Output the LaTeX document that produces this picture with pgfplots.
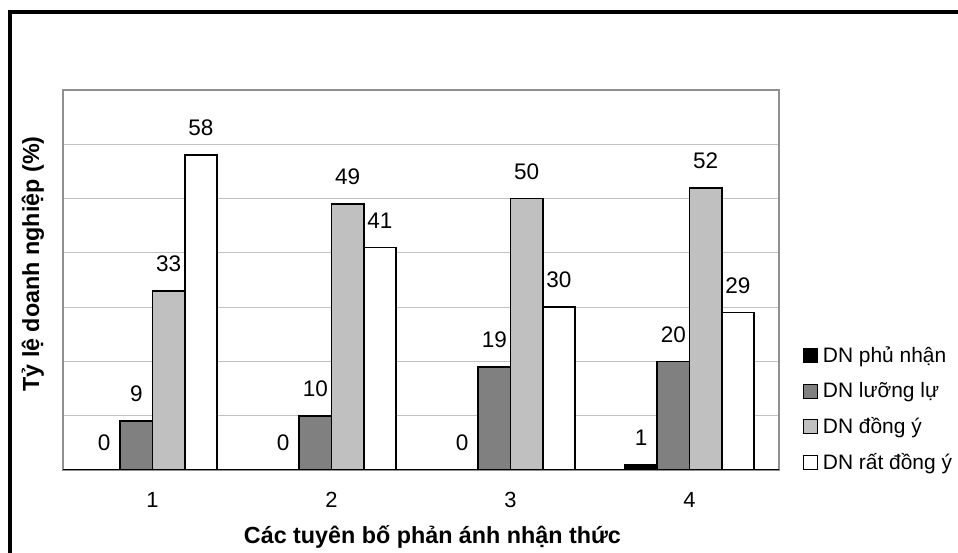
\documentclass[border=0pt]{standalone}
\usepackage{fontspec}
\setmainfont{Liberation Sans}
\usepackage{pgfplots}
\pgfplotsset{compat=1.18}
\definecolor{dg}{HTML}{808080}
\definecolor{lg}{HTML}{C0C0C0}
\definecolor{gridc}{HTML}{C0C0C0}
\definecolor{axc}{HTML}{909090}
\begin{document}
\begin{tikzpicture}
\useasboundingbox (0,0) rectangle (479bp,276.5bp);
\draw[line width=2bp] (5bp,-20bp) -- (5bp,270.5bp) -- (500bp,270.5bp);
\begin{axis}[
  at={(31.5bp,41.5bp)}, anchor=south west,
  width=358bp, height=190bp, scale only axis,
  /pgf/number format/assume math mode=true,
  ybar=0pt, bar width=0.18,
  xmin=0.5, xmax=4.5, ymin=0, ymax=70,
  xtick={1,2,3,4},
  minor xtick={0.5,1.5,2.5,3.5,4.5},
  xtick pos=left,
  major tick length=0pt, minor tick length=3bp, tick align=outside,
  minor tick style={black, line width=0.5bp},
  xtick style={draw=none},
  ytick={10,20,30,40,50,60}, yticklabels={},
  ytick style={draw=none},
  ymajorgrids, grid style={gridc, line width=0.5bp},
  axis line style={axc, line width=0.75bp},
  xticklabel style={font=\fontsize{11}{12}\selectfont, anchor=center, yshift=-15bp},
  xlabel={Các tuyên bố phản ánh nhận thức},
  xlabel style={at={(axis description cs:0.516,-0.176)}, anchor=center, font=\bfseries\fontsize{11.7}{14}\selectfont},
  ylabel={Tỷ lệ doanh nghiệp (\%)},
  ylabel style={at={(axis description cs:-0.0419,0.542)}, anchor=center, font=\bfseries\fontsize{11.7}{14}\selectfont},
  nodes near coords,
  every node near coord/.append style={font=\fontsize{11.3}{12}\selectfont, anchor=center, yshift=13.5bp, black},
  legend style={draw=none, fill=none, at={(1.0335,0.16)}, anchor=west, font=\fontsize{10.5}{12}\selectfont, row sep=4.5bp, inner sep=0pt, nodes={inner xsep=2.3bp}},
  legend cell align=left,
  legend image code/.code={\draw[#1, line width=0.5bp] (0bp,-3.5bp) rectangle (7bp,3.5bp);},
]
\addplot[fill=black, draw=black, line width=0.9bp] coordinates {(1,0) (2,0) (3,0) (4,1)};
\addplot[fill=dg, draw=black, line width=0.9bp] coordinates {(1,9) (2,10) (3,19) (4,20)};
\addplot[fill=lg, draw=black, line width=0.9bp] coordinates {(1,33) (2,49) (3,50) (4,52)};
\addplot[fill=white, draw=black, line width=0.9bp] coordinates {(1,58) (2,41) (3,30) (4,29)};
\legend{DN phủ nhận, DN lưỡng lự, DN đồng ý, DN rất đồng ý}
\draw[black, line width=0.9bp] (rel axis cs:0,0) -- (rel axis cs:1,0);
\end{axis}
\end{tikzpicture}
\end{document}
